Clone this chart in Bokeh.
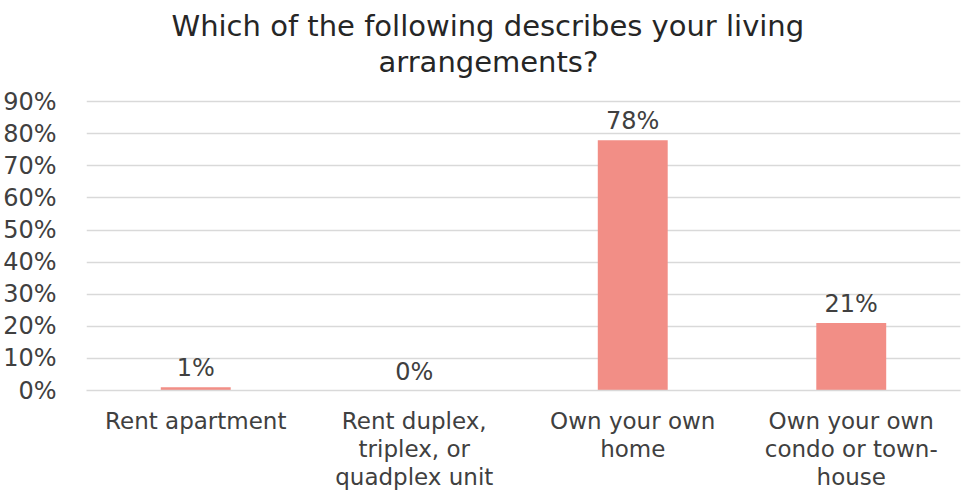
from bokeh.plotting import figure
from bokeh.models import ColumnDataSource, LabelSet, Title, FixedTicker, PrintfTickFormatter, FactorRange, Range1d
from bokeh.core.properties import value
from bokeh.embed import file_html
from bokeh.resources import INLINE

# ---- data ----
categories = [
    "Rent apartment",
    "Rent duplex,\ntriplex, or\nquadplex unit",
    "Own your own\nhome",
    "Own your own\ncondo or town-\nhouse",
]
values = [1, 0, 78, 21]
value_labels = ["1%", "0%", "78%", "21%"]
y_ticks = [0, 10, 20, 30, 40, 50, 60, 70, 80, 90]
title_lines = ["Which of the following describes your living", "arrangements?"]

FONT = "DejaVu Sans"
TEXT = "#404040"
BAR = "#F28E86"
GRID = "#d9d9d9"

source = ColumnDataSource(dict(cat=categories, val=values, lab=value_labels))

p = figure(
    width=962, height=496,
    x_range=FactorRange(factors=categories, range_padding=0),
    y_range=Range1d(0, 97.2),
    output_backend="svg", toolbar_location=None, tools="",
    title_location=None,
    min_border_left=86, min_border_right=2, min_border_top=78, min_border_bottom=106,
)
p.outline_line_color = None
p.background_fill_color = "white"
p.border_fill_color = "white"

p.vbar(x="cat", top="val", width=0.32, source=source, fill_color=BAR, line_color=None)

labels = LabelSet(x="cat", y="val", text="lab", source=source, y_offset=5,
                  text_align="center", text_baseline="bottom",
                  text_font=value(FONT), text_font_size="24px", text_color=TEXT)
p.add_layout(labels)

# y axis
p.yaxis.ticker = FixedTicker(ticks=y_ticks)
p.yaxis.formatter = PrintfTickFormatter(format="%d%%")
p.yaxis.axis_line_color = None
p.yaxis.major_tick_line_color = None
p.yaxis.minor_tick_line_color = None
p.yaxis.major_label_text_font = FONT
p.yaxis.major_label_text_font_size = "24px"
p.yaxis.major_label_text_color = TEXT
p.yaxis.major_label_standoff = 24

p.ygrid.ticker = FixedTicker(ticks=y_ticks)
p.ygrid.grid_line_color = GRID
p.ygrid.grid_line_width = 1.5
p.xgrid.grid_line_color = None

# x axis
p.xaxis.axis_line_color = GRID
p.xaxis.axis_line_width = 1.5
p.xaxis.major_tick_line_color = None
p.xaxis.minor_tick_line_color = None
p.xaxis.major_label_text_font = FONT
p.xaxis.major_label_text_font_size = "23px"
p.xaxis.major_label_text_color = TEXT
p.xaxis.major_label_text_line_height = 1.08
p.xaxis.major_label_standoff = 11

# title: two lines, each centred over the whole chart
offsets = [85, 292]
for line, off in reversed(list(zip(title_lines, offsets))):
    p.add_layout(Title(text=line, align="left", offset=off, standoff=0,
                       text_font=FONT, text_font_size="29px",
                       text_font_style="normal", text_color="#262626"), "above")

open("out.html", "w").write(file_html(p, INLINE))
